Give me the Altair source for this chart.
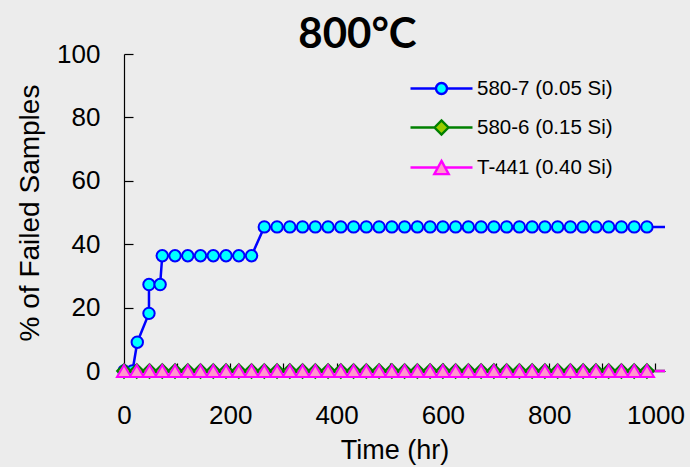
import altair as alt
import pandas as pd

# ---------------- data ----------------
series_names = ["580-7 (0.05 Si)", "580-6 (0.15 Si)", "T-441 (0.40 Si)"]

# 580-7 (0.05 Si)
t_580_7 = [0, 16, 25, 47, 47, 68, 72, 96, 120, 144, 168, 192, 216, 240,
           264, 288, 312, 336, 360, 384, 408, 432, 456, 480, 504, 528, 552,
           576, 600, 624, 648, 672, 696, 720, 744, 768, 792, 816, 840, 864,
           888, 912, 936, 960, 984, 1018]
v_580_7 = [0, 0, 9.09, 18.18, 27.27, 27.27, 36.36, 36.36, 36.36, 36.36,
           36.36, 36.36, 36.36, 36.36,
           45.45, 45.45, 45.45, 45.45, 45.45, 45.45, 45.45, 45.45, 45.45,
           45.45, 45.45, 45.45, 45.45, 45.45, 45.45, 45.45, 45.45, 45.45,
           45.45, 45.45, 45.45, 45.45, 45.45, 45.45, 45.45, 45.45, 45.45,
           45.45, 45.45, 45.45, 45.45, 45.45]

# 580-6 (0.15 Si) and T-441 (0.40 Si): no failures
t_580_6 = [0, 24, 48, 72, 96, 120, 144, 168, 192, 216, 240, 264, 288, 312,
           336, 360, 384, 408, 432, 456, 480, 504, 528, 552, 576, 600, 624,
           648, 672, 696, 720, 744, 768, 792, 816, 840, 864, 888, 912, 936,
           960, 984, 1018]
v_580_6 = [0] * 43
t_t441 = [0, 24, 48, 72, 96, 120, 144, 168, 192, 216, 240, 264, 288, 312,
          336, 360, 384, 408, 432, 456, 480, 504, 528, 552, 576, 600, 624,
          648, 672, 696, 720, 744, 768, 792, 816, 840, 864, 888, 912, 936,
          960, 984, 1018]
v_t441 = [0] * 43

y_ticks = [0, 20, 40, 60, 80, 100]
x_ticks = [0, 100, 200, 300, 400, 500, 600, 700, 800, 900, 1000]

# ---------------- styles ----------------
line_colors = ["#0000ff", "#008000", "#ff00ff"]
fill_colors = ["#00ffff", "#99cc00", "#ff99cc"]
shapes = ["circle", "diamond", "triangle-up"]
sizes = [130, 190, 200]

legend_paths = [
    "M-3.1,0L-0.55,0M0.55,0L3.1,0M-0.55,0A0.55,0.55,0,1,1,0.55,0A0.55,0.55,0,1,1,-0.55,0Z",
    "M-3.1,0L-0.7,0M0.7,0L3.1,0M-0.7,0L0,-0.7L0.7,0L0,0.7Z",
    "M-3.1,0L-0.36,0M0.36,0L3.1,0M0,-0.66L0.72,0.66L-0.72,0.66Z",
]

rows = []
for name, ts, vs in [(series_names[0], t_580_7, v_580_7),
                     (series_names[1], t_580_6, v_580_6),
                     (series_names[2], t_t441, v_t441)]:
    for i, (t, v) in enumerate(zip(ts, vs)):
        rows.append({"series": name, "time": t, "pct": v, "idx": i,
                     "marker": i < len(ts) - 1})
df = pd.DataFrame(rows)

x_scale = alt.Scale(domain=[0, 1018], nice=False, zero=False)
y_scale = alt.Scale(domain=[0, 100], nice=False)

x_enc = alt.X("time:Q", scale=x_scale, axis=alt.Axis(
    values=x_ticks, title="Time (hr)", format="d",
    labelExpr="datum.value % 200 == 0 ? datum.label : ''",
    tickSize={"expr": "-8"}, labelPadding=39, titlePadding=9,
    labelFontSize=26, titleFontSize=27, labelFlush=False))
y_enc = alt.Y("pct:Q", scale=y_scale, axis=alt.Axis(
    values=y_ticks, title="% of Failed Samples", format="d",
    tickSize={"expr": "-9"}, labelPadding=33, titlePadding=12,
    labelFontSize=26, titleFontSize=28))

legend_common = dict(title=None, orient="none", legendX=306, legendY=23,
                     padding=0, rowPadding=16, labelOffset=24,
                     labelFontSize=20.5, labelFont="Liberation Sans", labelColor="#000000",
                     symbolSize=400, symbolStrokeWidth=2.4, symbolOpacity=1)

stroke_scale = alt.Scale(domain=series_names, range=line_colors)

base = alt.Chart(df)

lines = base.mark_line(strokeWidth=2.5).encode(
    x=x_enc, y=y_enc,
    stroke=alt.Stroke("series:N", scale=stroke_scale, legend=alt.Legend(**legend_common)),
    detail="series:N", order="idx:Q")

point_layers = []
for name, shp, fc, lc, sz in zip(series_names, shapes, fill_colors, line_colors, sizes):
    point_layers.append(
        base.transform_filter(alt.datum.series == name).transform_filter("datum.marker")
        .mark_point(shape=shp, filled=True, fill=fc, stroke=lc, strokeWidth=2,
                    size=sz, opacity=1)
        .encode(x=x_enc, y=y_enc)
    )

legend_layer = base.transform_filter("false").mark_point(
    filled=True, strokeWidth=2.4, opacity=1, size=400).encode(
    x=x_enc, y=y_enc,
    stroke=alt.Stroke("series:N", scale=stroke_scale, legend=alt.Legend(**legend_common)),
    fill=alt.Fill("series:N", scale=alt.Scale(domain=series_names, range=fill_colors),
                  legend=alt.Legend(**legend_common)),
    shape=alt.Shape("series:N", scale=alt.Scale(domain=series_names, range=legend_paths),
                    legend=alt.Legend(**legend_common)),
)

chart = alt.layer(lines, *point_layers, legend_layer).properties(
    width=541, height=317,
    padding={"left": 124, "top": 54, "right": 25, "bottom": 96},
    autosize=alt.AutoSizeParams(type="none"),
    background="#ececec",
    title=alt.TitleParams("800°C", font="Lato", fontSize=42, fontWeight="bold",
                          color="#000000", anchor="middle", dx=-37, dy=16, offset=0),
).configure_view(stroke=None).configure_axis(
    domainColor="#000000", tickColor="#000000", labelColor="#000000",
    titleColor="#000000", labelFont="Liberation Sans", titleFont="Liberation Sans",
    titleFontWeight="normal", grid=False, domainWidth=1.2, tickWidth=1.2,
)

chart.save("out.html", embed_options={"renderer": "svg", "actions": False})
